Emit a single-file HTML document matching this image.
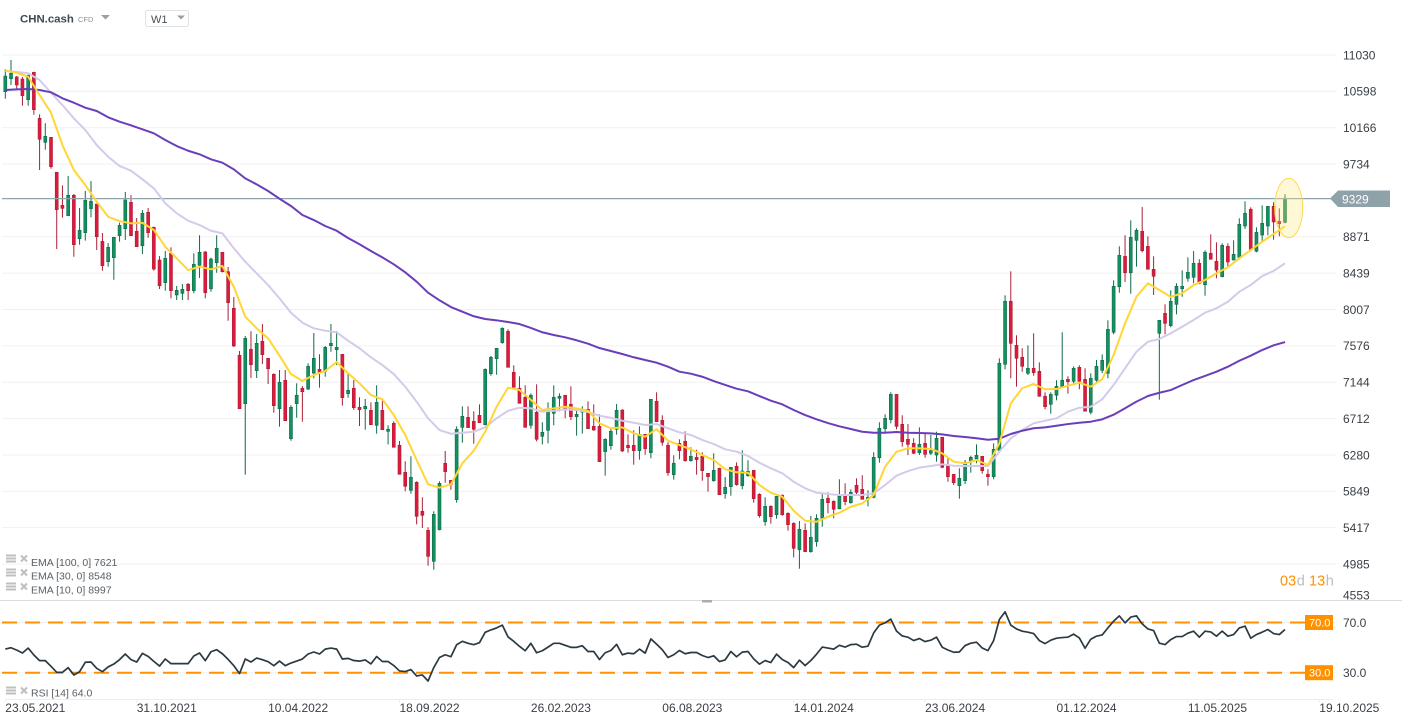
<!DOCTYPE html>
<html lang="en">
<head>
<meta charset="utf-8">
<title>CHN.cash W1 chart</title>
<style>
html,body{margin:0;padding:0;background:#fff;width:1402px;height:725px;overflow:hidden}
svg{display:block;font-family:"Liberation Sans",sans-serif}
.axis{font-size:12px;fill:#3a4046}
.leg{font-size:10.5px;fill:#5a6066}
</style>
</head>
<body>
<svg id="chart" width="1402" height="725" viewBox="0 0 1402 725" xmlns="http://www.w3.org/2000/svg">
  <rect x="0" y="0" width="1402" height="725" fill="#ffffff"/>
  <g id="grid"></g>
  <g id="candles"></g>
  <line x1="2" x2="1333" y1="198.6" y2="198.6" stroke="#8fa3ab" stroke-width="1.2"/>
  <g id="emas"></g>
  <ellipse cx="1288.7" cy="208" rx="14" ry="29.6" fill="#ffe97a" fill-opacity="0.3" stroke="#ffd84d" stroke-width="1"/>
  <g id="yTicks"></g>
  <polygon points="1330,198.5 1338,190.5 1390,190.5 1390,207 1338,207" fill="#8fa2aa"/>
  <text x="1342" y="203.3" font-size="12" fill="#ffffff">9329</text>
  <g>
    <text x="1280" y="585.3" font-size="14.5" fill="#ff9100">03</text>
    <text x="1296.8" y="585.3" font-size="14.5" fill="#bdbdbd">d</text>
    <text x="1309" y="585.3" font-size="14.5" fill="#ff9100">13</text>
    <text x="1325.8" y="585.3" font-size="14.5" fill="#bdbdbd">h</text>
  </g>

  <g>
    <text x="20" y="22.5" font-size="11.4" font-weight="700" fill="#3c4a55">CHN.cash</text>
    <text x="78" y="22" font-size="7.5" fill="#8a9196">CFD</text>
    <polygon points="101,15 110,15 105.5,19.5" fill="#9a9fa3"/>
    <rect x="145.5" y="10.5" width="43" height="16" rx="2" fill="#ffffff" stroke="#e0e2e3"/>
    <text x="151" y="23" font-size="11" fill="#4a5258">W1</text>
    <polygon points="177,15.5 185,15.5 181,19.5" fill="#9a9fa3"/>
  </g>

  <g>
    <path d="M6 555.5h10M6 558.5h10M6 561.5h10" stroke="#bdbfc0" stroke-width="2"/>
    <path d="M21 555.5l6 6M27 555.5l-6 6" stroke="#bdbfc0" stroke-width="2"/>
    <text class="leg" x="31" y="566">EMA [100, 0] 7621</text>
  </g>
  <g>
    <path d="M6 569.5h10M6 572.5h10M6 575.5h10" stroke="#bdbfc0" stroke-width="2"/>
    <path d="M21 569.5l6 6M27 569.5l-6 6" stroke="#bdbfc0" stroke-width="2"/>
    <text class="leg" x="31" y="579.5">EMA [30, 0] 8548</text>
  </g>
  <g>
    <path d="M6 583.5h10M6 586.5h10M6 589.5h10" stroke="#bdbfc0" stroke-width="2"/>
    <path d="M21 583.5l6 6M27 583.5l-6 6" stroke="#bdbfc0" stroke-width="2"/>
    <text class="leg" x="31" y="593.5">EMA [10, 0] 8997</text>
  </g>

  <line x1="0" x2="1402" y1="600.5" y2="600.5" stroke="#dcdcdc" stroke-width="1"/>
  <rect x="702" y="600" width="10" height="2.5" fill="#a9adaf"/>

  <line x1="2" x2="1336" y1="622.5" y2="622.5" stroke="#f0f0f0"/>
  <line x1="2" x2="1336" y1="672.7" y2="672.7" stroke="#f0f0f0"/>
  <g id="rsiLevels"></g>
  <path id="rsiLine" fill="none" stroke="#2b3a42" stroke-width="1.7" stroke-linejoin="round"/>
  <g>
    <path d="M6 687.5h10M6 690.5h10M6 693.5h10" stroke="#bdbfc0" stroke-width="2"/>
    <path d="M21 687.5l6 6M27 687.5l-6 6" stroke="#bdbfc0" stroke-width="2"/>
    <text class="leg" x="31" y="696.5">RSI [14] 64.0</text>
  </g>
  <g id="rsiTags"></g>

  <line x1="5" x2="1333" y1="699.5" y2="699.5" stroke="#eeeeee"/>
  <g id="xTicks"></g>
</svg>
<script>
const opens=[10594,10748,10769,10745,10499,10824,10278,9993,10052,9637,9245,9121,9364,8848,8920,9205,9260,8817,8575,8623,8884,8967,9280,8936,8765,9162,8984,8595,8326,8675,8180,8200,8307,8231,8532,8690,8254,8563,8687,8456,8022,7464,6889,7535,7281,7630,7428,7238,6829,7167,6473,6889,7072,7063,7253,7297,7273,7578,7530,7475,7008,7072,6846,6829,6810,6632,6810,6561,6656,6395,6074,5860,5955,5611,5385,5017,5392,6181,5979,5749,6608,6727,6680,6751,6639,7245,7423,7613,7749,7262,7072,6965,6632,6787,6501,6573,6775,6953,6989,6882,6734,6794,6822,6620,6620,6319,6390,6585,6814,6395,6395,6331,6525,6307,6917,6691,6395,6045,6418,6442,6212,6252,6264,6062,5974,6121,5820,5903,6145,5915,6034,6098,5813,5487,5670,5570,5801,5587,5468,5155,5385,5131,5250,5528,5765,5730,5642,5801,5713,5920,5872,5753,5777,6247,6592,6699,7000,6644,6466,6418,6307,6418,6300,6279,6490,6152,6050,5915,5974,6200,6232,6264,6050,6022,6335,7357,8105,7582,7440,7250,7309,7273,6977,6882,6989,7083,7178,7155,7321,7178,6787,7167,7285,7250,7737,8278,8639,8444,8829,8936,8758,8485,7725,7962,7815,8069,8254,8378,8390,8556,8302,8675,8580,8397,8758,8595,8627,8999,9198,8699,8892,8999,9233,9055,9043];
const closes=[10780,10813,10674,10547,10789,10380,10029,10064,9703,9193,9209,9364,8777,8948,9304,9292,8872,8528,8746,8865,9007,9308,8884,8753,9150,8920,8488,8290,8615,8231,8235,8247,8231,8544,8687,8207,8607,8734,8456,8088,7574,6829,7665,7352,7606,7471,7304,6865,7143,6687,6846,6989,7031,7333,7428,7265,7558,7606,7558,6960,7048,6841,6817,6858,6639,6905,6580,6585,6371,6050,5908,6015,5551,5563,5076,5575,5943,6081,5931,6585,6739,6604,6585,6663,7297,7440,7547,7784,7321,7083,6893,6608,6989,6466,6549,6787,6965,6977,6834,6734,6763,6806,6592,6576,6200,6466,6561,6810,6327,6366,6331,6525,6354,6941,6675,6430,6069,6181,6331,6212,6264,6224,6093,6022,6098,5808,5896,6133,5927,6089,6086,5761,5559,5670,5547,5789,5570,5452,5171,5397,5131,5302,5528,5753,5713,5635,5789,5725,5836,5836,5753,5777,6252,6597,6715,7000,6620,6437,6406,6300,6406,6288,6331,6478,6133,6022,5951,6003,6193,6252,6276,6093,6022,6347,7369,8105,7606,7428,7333,7309,7257,6977,6853,7000,7095,7167,7150,7309,7155,6799,7190,7333,7404,7772,8283,8651,8444,8865,8948,8706,8485,8402,7879,7843,8105,8283,8283,8449,8556,8319,8687,8604,8476,8770,8572,8663,9019,9150,8722,8924,9031,9233,9047,9026,9329];
const highs=[10860,10971,10781,10769,10796,10832,10326,10219,10056,9640,9482,9593,9379,9213,9415,9533,9260,8916,8797,8869,9038,9403,9367,9094,9189,9213,8991,8643,8702,8746,8287,8310,8322,8675,8889,8702,8623,8889,8690,8512,8156,7515,7693,7749,7716,7835,7431,7250,7289,7289,6870,7131,7099,7368,7728,7475,7574,7835,7752,7479,7250,7170,6965,6945,6905,7107,6929,6632,6680,6446,6205,6264,5967,5777,5421,5611,5967,6327,5983,6620,6858,6858,6798,6881,7309,7455,7550,7796,7772,7345,7214,7107,7012,7119,6668,6905,7107,7012,6992,7095,6814,6858,6917,6881,6763,6478,6597,6885,6822,6525,6573,6620,6529,6945,7024,6751,6430,6276,6466,6561,6371,6342,6312,6066,6300,6129,6018,6137,6193,6335,6217,6101,5825,5777,5682,5793,5813,5599,5480,5496,5468,5555,5575,5816,5836,5741,5991,5944,5872,6003,6039,5860,6312,6668,6763,7024,7004,6751,6648,6478,6608,6529,6517,6556,6494,6259,6054,6122,6220,6271,6406,6268,6110,6418,7428,8176,8461,7701,7547,7582,7725,7380,7024,7024,7167,7737,7214,7333,7345,7309,7250,7408,7475,7879,8354,8758,8889,9067,8972,9225,8877,8639,7883,8069,8235,8319,8473,8627,8702,8604,8710,8900,8805,8794,8794,8829,9091,9292,9221,8984,9245,9237,9281,9209,9376];
const lows=[10511,10674,10626,10428,10428,10321,9664,9905,9680,8726,9098,9121,8634,8777,8825,9102,8714,8468,8516,8361,8813,8833,8880,8750,8667,8860,8468,8251,8231,8140,8120,8120,8120,8200,8382,8140,8219,8444,8449,7874,7562,6826,6046,7194,7194,7360,7123,6782,6616,6683,6449,6722,6675,7051,7190,7079,7209,7506,7348,6865,6960,6817,6624,6580,6636,6533,6576,6406,6369,6048,5848,5820,5456,5412,4965,4917,5385,5951,5867,5713,6426,6600,6414,6660,6632,7221,7233,7601,7319,7081,6891,6606,6592,6442,6406,6418,6632,6799,6715,6695,6509,6533,6588,6568,6196,6034,6342,6521,6315,6307,6164,6224,6283,6240,6671,6390,6034,5986,6228,6200,6200,6046,5974,5844,5962,5804,5761,5796,5915,5872,6022,5713,5535,5440,5464,5523,5559,5381,5064,4929,5127,5119,5191,5428,5587,5528,5635,5682,5701,5813,5751,5670,5765,6188,6537,6656,6585,6378,6279,6291,6279,6247,6279,6200,6122,5962,5923,5761,5935,6069,6181,6057,5915,5991,6327,7297,7190,7091,7269,7230,7221,6972,6822,6770,6929,7081,7008,7131,7060,6796,6763,7150,7250,7190,7713,8207,8334,8195,8516,8687,8483,8180,6936,7713,7796,7950,8159,8338,8319,8307,8171,8601,8378,8390,8521,8593,8615,8964,8710,8687,8817,8889,8836,8877,9031];
const ema10Samples=[10843,10820,10772,10555,10345,9961,9664,9486,9288,9109,9058,9031,9038,8952,8753,8615,8476,8516,8485,8524,8278,7922,7784,7665,7459,7241,7158,7230,7277,7384,7250,7131,6992,6941,6755,6517,6220,5931,5891,5931,6181,6331,6556,6853,7079,7051,6933,6814,6834,6853,6834,6806,6656,6597,6608,6537,6497,6588,6449,6398,6347,6279,6220,6110,6074,6069,5923,5832,5784,5618,5499,5487,5547,5594,5665,5706,5804,6141,6319,6359,6359,6351,6300,6200,6181,6220,6161,6418,6893,7072,7123,7060,7063,7103,7138,7091,7179,7467,7843,8159,8319,8239,8159,8200,8298,8358,8437,8509,8615,8714,8813,8904,8999];
const ema30Samples=[10843,10828,10813,10733,10582,10436,10278,10139,9961,9822,9712,9656,9554,9447,9269,9150,9062,9011,8943,8912,8734,8575,8437,8298,8140,7969,7851,7784,7756,7737,7637,7547,7440,7348,7241,7090,6912,6715,6576,6532,6544,6556,6608,6715,6805,6841,6834,6794,6805,6822,6814,6790,6746,6722,6687,6663,6636,6647,6597,6549,6517,6458,6410,6347,6319,6268,6188,6121,6062,5962,5884,5832,5816,5804,5804,5804,5825,5923,6034,6089,6129,6149,6169,6152,6149,6149,6149,6319,6478,6576,6656,6687,6715,6794,6841,6853,6941,7111,7309,7506,7625,7657,7725,7803,7883,7969,8022,8100,8219,8298,8405,8465,8556];
const ema100Samples=[10614,10622,10626,10614,10587,10516,10463,10404,10365,10290,10238,10195,10147,10100,10020,9949,9893,9851,9791,9751,9672,9565,9494,9415,9323,9237,9130,9070,8999,8943,8857,8782,8702,8627,8544,8449,8338,8207,8117,8037,7981,7927,7895,7879,7859,7835,7788,7737,7705,7677,7642,7601,7550,7515,7479,7440,7408,7376,7328,7269,7245,7209,7158,7111,7067,7036,6980,6924,6881,6814,6754,6703,6659,6620,6588,6556,6544,6544,6553,6544,6541,6537,6525,6505,6493,6478,6461,6473,6529,6568,6597,6608,6627,6647,6663,6675,6703,6758,6834,6913,6980,7019,7051,7111,7170,7218,7269,7328,7399,7459,7526,7582,7621];
const rsiValues=[48.8,49.9,48,45.7,49.6,44.1,39.6,39.6,35.1,30.3,30.3,34,28.2,30.8,38.3,38.5,33.5,30.8,34.6,36.9,40.4,44.9,40.4,38.5,45.4,43,39,35.3,40.9,37.2,37.2,37.2,37.2,43.3,45.7,39.6,46.7,48.3,45.1,40.6,35.6,29.3,40.9,38.5,41.7,40.4,38.8,35.6,39.3,35.6,37.7,39.3,40.9,44.9,46.5,44.9,48.8,49.6,48.8,40.9,41.4,39.7,39.2,40.2,37,42.9,38.9,38.9,35.7,31.4,30.9,32.5,27.4,28.2,23.4,34.1,42.1,44.3,42.7,52.3,55,53.4,52.3,53.9,62.2,64.1,65.7,67.9,58.5,55,51,47.5,53.4,45.9,47.5,50.4,53.4,53.4,51.8,50.2,50.2,51.5,46.9,46.9,40.5,45.9,47.7,52.6,44.3,45.6,45.1,48.8,45.6,56.9,52.8,48.3,42.1,44.3,47.7,45.1,46.1,46.1,43.7,42.1,43.5,38.9,40.2,46.9,42.7,46.4,46.9,41,36.8,39.7,38.1,44.8,40.5,38.1,34.1,40,35.7,39.7,44.8,50.4,49.6,48.8,51.8,50.4,52.4,52.7,50.3,51.1,61.7,67.9,69.7,72.7,63.1,59.3,58.3,55.6,57.2,54.8,55.9,58.3,50.3,48.1,46.3,46.5,51.6,53.5,54.3,49.7,47.6,55.6,72.4,78.5,67.9,64.9,63.1,62.3,61.2,55.6,53.2,55.9,57.5,58,58.3,60.7,57.7,49.5,56.7,59.1,60.1,65.7,71.1,75.3,69.7,74.3,75.3,68.9,64.9,63.6,53.5,52.4,56.4,58.8,58.8,61.5,63.1,58.3,63.1,62.5,59.1,63.1,59.1,60.4,65.7,67.1,57.5,60.4,62.3,64.4,61.2,60.4,64.4];
const priceTicks=[11030,10598,10166,9734,8871,8439,8007,7576,7144,6712,6280,5849,5417,4985,4553];
const rsiLevels=[70,30];
const rsiLevelLabels=["70.0","30.0"];
const dateLabels=["23.05.2021","31.10.2021","10.04.2022","18.09.2022","26.02.2023","06.08.2023","14.01.2024","23.06.2024","01.12.2024","11.05.2025","19.10.2025"];
const dateStep=23;
const emaStep=2;

const NS="http://www.w3.org/2000/svg";
const xAt=i=>5.3+i*5.713;
const priceY=v=>55+(11030-v)*(564-55)/(11030-4985);
const rsiY=v=>622.5+(70-v)*50.2/40;
function mk(parent,tag,attrs){
  const el=document.createElementNS(NS,tag);
  for(const k in attrs){el.setAttribute(k,attrs[k]);}
  parent.appendChild(el);
  return el;
}

const grid=document.getElementById('grid');
const yTicks=document.getElementById('yTicks');
priceTicks.forEach(function(v){
  const y=priceY(v);
  if(y<598){
    const g=mk(grid,'line',{x1:2,x2:1336,y1:y,y2:y,stroke:'#f1f1f1','stroke-width':1});
    
    
  }
  const t=mk(yTicks,'text',{x:1343,y:Math.min(y,595)+4.3,class:'axis'});
  t.textContent=String(v);
  
  
});

const candleLayer=document.getElementById('candles');
opens.forEach(function(o,i){
  const c=closes[i];
  const up=c>=o;
  const x=xAt(i);
  const g=mk(candleLayer,'g',{});
  
  
  const wick=mk(g,'line',{x1:x,x2:x,y1:priceY(highs[i]),y2:priceY(lows[i]),stroke:up?'#0e6b48':'#ab1f35','stroke-width':1});
  
  
  const top=priceY(Math.max(o,c));
  const bot=priceY(Math.min(o,c));
  const body=mk(g,'rect',{x:x-1.5,y:top,width:3,height:Math.max(bot-top,1.5),fill:up?'#12905f':'#dc1a3c',stroke:up?'#0e6b48':'#ab1f35','stroke-width':0.6});
  
  
});

function linePath(vals,step,yFn){
  return vals.map(function(v,k){return (k?'L':'M')+xAt(k*step).toFixed(2)+' '+yFn(v).toFixed(2);}).join(' ');
}
const emaLayer=document.getElementById('emas');
const ema30Path=mk(emaLayer,'path',{d:linePath(ema30Samples,emaStep,priceY),fill:'none',stroke:'#d4cae9','stroke-width':2,'stroke-linejoin':'round'});


const ema100Path=mk(emaLayer,'path',{d:linePath(ema100Samples,emaStep,priceY),fill:'none',stroke:'#6a3dba','stroke-width':2,'stroke-linejoin':'round'});


const ema10Path=mk(emaLayer,'path',{d:linePath(ema10Samples,emaStep,priceY),fill:'none',stroke:'#ffd633','stroke-width':2,'stroke-linejoin':'round'});



document.getElementById('rsiLine').setAttribute('d',linePath(rsiValues,1,rsiY));

const levelLayer=document.getElementById('rsiLevels');
const tagLayer=document.getElementById('rsiTags');
rsiLevels.forEach(function(v,i){
  const y=rsiY(v);
  const l=mk(levelLayer,'line',{x1:2,x2:1305,y1:y,y2:y,stroke:'#ff9100','stroke-width':2,'stroke-dasharray':'15 8'});
  
  
  const box=mk(tagLayer,'rect',{x:1305,y:y-7.5,width:28,height:15,fill:'#ff9100'});
  
  
  const tt=mk(tagLayer,'text',{x:1309,y:y+3.8,'font-size':11,fill:'#ffffff'});
  tt.textContent=rsiLevelLabels[i];
  
  
  const at=mk(tagLayer,'text',{x:1343,y:y+4.3,class:'axis'});
  at.textContent=rsiLevelLabels[i];
  
  
});

const xLayer=document.getElementById('xTicks');
dateLabels.forEach(function(s,i){
  const x=xAt(i*dateStep);
  const tk=mk(xLayer,'line',{x1:x,x2:x,y1:699,y2:703,stroke:'#eeeeee'});
  
  
  const t=mk(xLayer,'text',{x:x,y:712,class:'axis'});
  t.textContent=s;
  
  
});
</script>
</body>
</html>
